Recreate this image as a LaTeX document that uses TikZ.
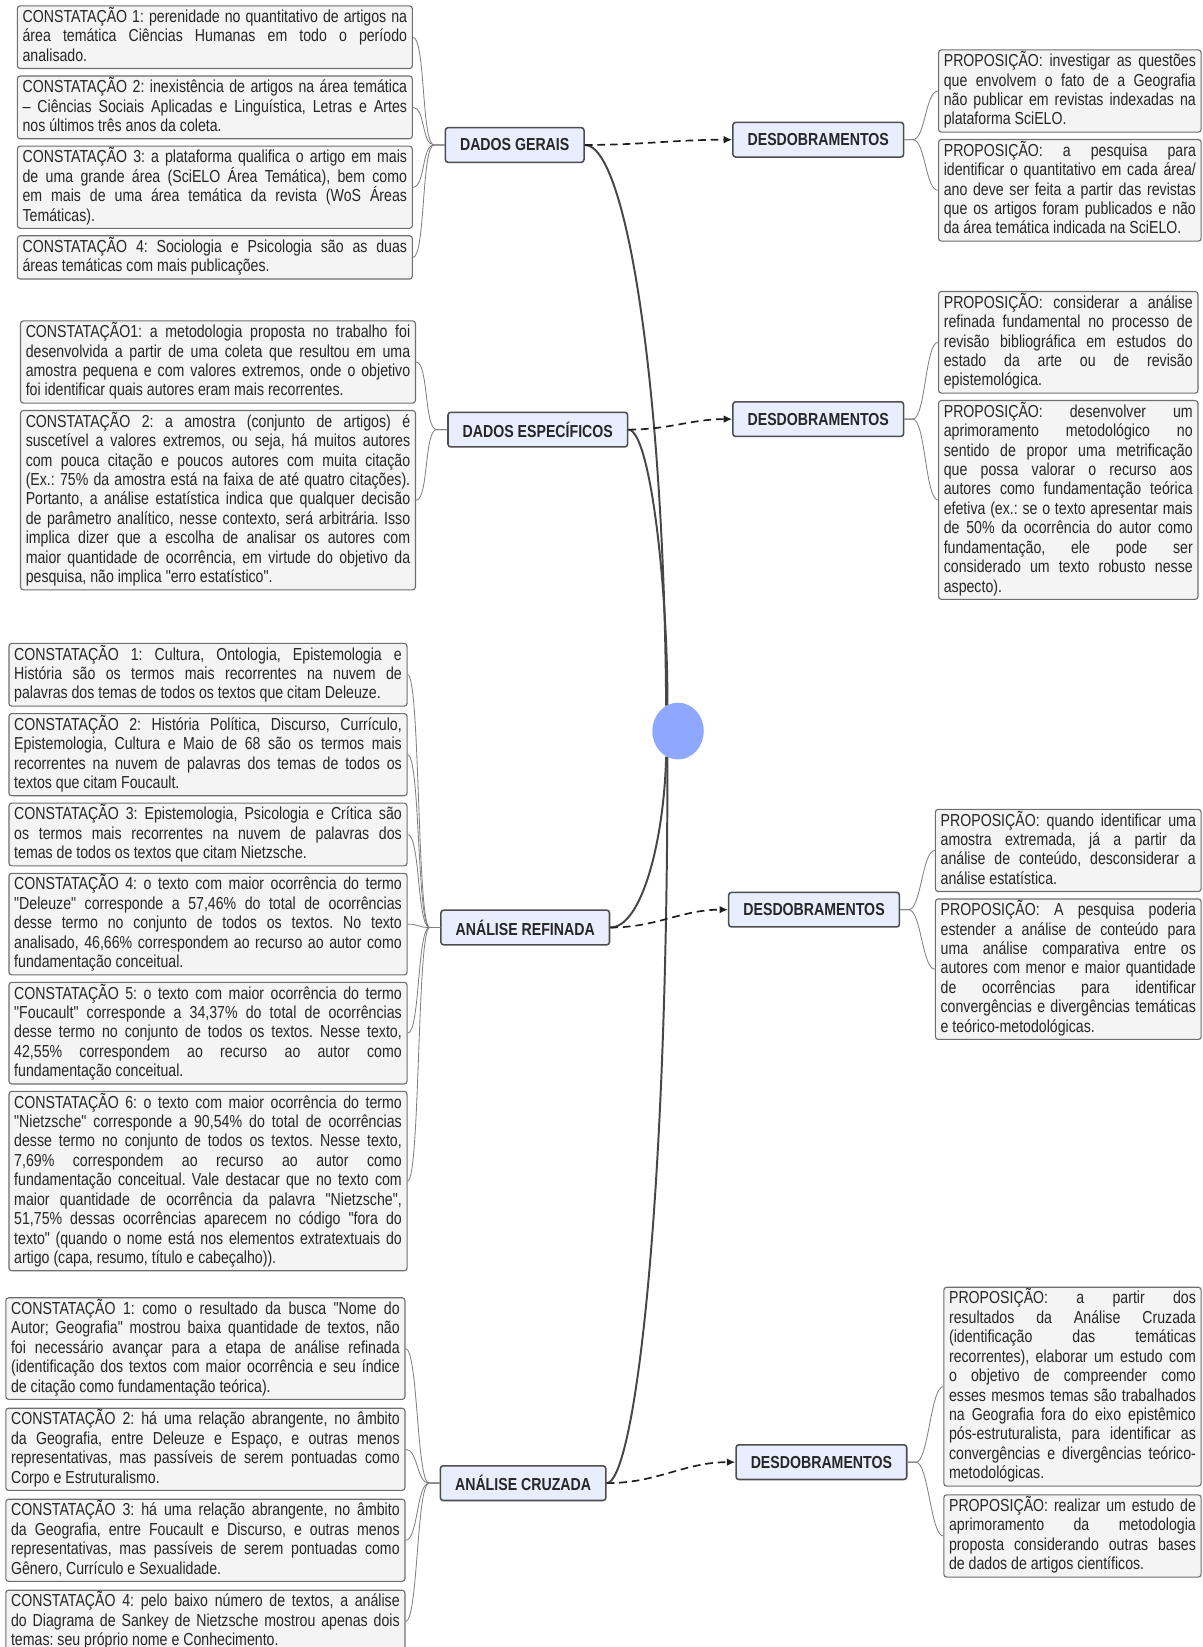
\documentclass[tikz,border=0pt]{standalone}
\usepackage{fontspec}
\setmainfont{Liberation Sans}[FakeStretch=0.815, Ligatures=TeXOff]
\usepackage{xcolor}
\usepackage{tikz}
\usetikzlibrary{positioning}
\usetikzlibrary{arrows.meta}
\usetikzlibrary{shapes.geometric}
\definecolor{boxgray}{HTML}{F4F4F4}
\definecolor{boxline}{HTML}{6E6E6E}
\definecolor{mainblue}{HTML}{E8EEFD}
\definecolor{mainline}{HTML}{4D4D4D}
\definecolor{hubblue}{HTML}{8FA8FF}
\definecolor{darktext}{HTML}{262626}
\tolerance=10000
\hbadness=10000
\hyphenpenalty=10000
\frenchspacing
\tikzset {
  x=0.75pt, y=-0.75pt,
  node distance={4.5pt},
  % topic and follow-up boxes
  main/.style = {draw=mainline, fill=mainblue, line width=1.1pt, rounded corners=2pt,
    inner xsep=10.5pt, minimum height=24.75pt, text=darktext,
    font=\bfseries\fontsize{12.4}{14}\selectfont},
  % grey text boxes, #1 is the text width
  textbox/.style = {draw=boxline, fill=boxgray, line width=0.8pt, rounded corners=2pt,
    inner xsep=3.75pt, inner ysep=1pt, align=justify, text width=#1, text=darktext,
    font=\fontsize{12.4}{13.875}\selectfont,
    execute at begin node={\lineskiplimit=-20pt\frenchspacing\strut}, execute at end node=\strut},
  % the blue centre
  centre/.style = {ellipse, fill=hubblue, minimum width=36.75pt, minimum height=40.5pt, inner sep=0pt},
  % connectors
  trunk/.style = {draw=black!72, line width=1.4pt},
  branch/.style = {draw=black!50, line width=0.6pt},
  link/.style = {draw=black!88, line width=1.2pt, dash pattern=on 5.5pt off 3.5pt,
    -{Latex[length=6pt,width=5.5pt]}},
}
\begin{document}
\begin{tikzpicture}
  \useasboundingbox (0,0) rectangle (1145,1568);

  \node[centre] (hub) at (645.5,696) {};

  \node[main] (dg) at (490,138) {DADOS GERAIS};
  \node[main] (de) at (512,409) {DADOS ESPECÍFICOS};
  \node[main] (ar) at (500,883) {ANÁLISE REFINADA};
  \node[main] (ac) at (498,1412) {ANÁLISE CRUZADA};

  \node[main] (d1) at (779,133) {DESDOBRAMENTOS};
  \node[main] (d2) at (779,399) {DESDOBRAMENTOS};
  \node[main] (d3) at (775,866) {DESDOBRAMENTOS};
  \node[main] (d4) at (782,1392) {DESDOBRAMENTOS};

  % dados gerais
  \node[textbox=274.5pt, anchor=north west] (g1) at (16,5) {CONSTATAÇÃO 1: perenidade no quantitativo de artigos na\linebreak área temática Ciências Humanas em todo o período\linebreak analisado.};
  \node[textbox=274.5pt] (g2) [below=of g1] {CONSTATAÇÃO 2: inexistência de artigos na área temática\linebreak – Ciências Sociais Aplicadas e Linguística, Letras e Artes\linebreak nos últimos três anos da coleta.};
  \node[textbox=274.5pt] (g3) [below=of g2] {CONSTATAÇÃO 3: a plataforma qualifica o artigo em mais\linebreak de uma grande área (SciELO Área Temática), bem como\linebreak em mais de uma área temática da revista (WoS Áreas\linebreak Temáticas).};
  \node[textbox=274.5pt] (g4) [below=of g3] {CONSTATAÇÃO 4: Sociologia e Psicologia são as duas\linebreak áreas temáticas com mais publicações.};

  % dados especificos
  \node[textbox=274.5pt, anchor=north west] (e1) at (19,305) {CONSTATAÇÃO1: a metodologia proposta no trabalho foi\linebreak desenvolvida a partir de uma coleta que resultou em uma\linebreak amostra pequena e com valores extremos, onde o objetivo\linebreak foi identificar quais autores eram mais recorrentes.};
  \node[textbox=274.5pt] (e2) [below=of e1] {CONSTATAÇÃO 2: a amostra (conjunto de artigos) é\linebreak suscetível a valores extremos, ou seja, há muitos autores\linebreak com pouca citação e poucos autores com muita citação\linebreak (Ex.: 75\% da amostra está na faixa de até quatro citações).\linebreak Portanto, a análise estatística indica que qualquer decisão\linebreak de parâmetro analítico, nesse contexto, será arbitrária. Isso\linebreak implica dizer que a escolha de analisar os autores com\linebreak maior quantidade de ocorrência, em virtude do objetivo da\linebreak pesquisa, não implica "erro estatístico".};

  % analise refinada
  \node[textbox=276.75pt, anchor=north west] (r1) at (8,612) {CONSTATAÇÃO 1: Cultura, Ontologia, Epistemologia e\linebreak História são os termos mais recorrentes na nuvem de\linebreak palavras dos temas de todos os textos que citam Deleuze.};
  \node[textbox=276.75pt] (r2) [below=of r1] {CONSTATAÇÃO 2: História Política, Discurso, Currículo,\linebreak Epistemologia, Cultura e Maio de 68 são os termos mais\linebreak recorrentes na nuvem de palavras dos temas de todos os\linebreak textos que citam Foucault.};
  \node[textbox=276.75pt] (r3) [below=of r2] {CONSTATAÇÃO 3: Epistemologia, Psicologia e Crítica são\linebreak os termos mais recorrentes na nuvem de palavras dos\linebreak temas de todos os textos que citam Nietzsche.};
  \node[textbox=276.75pt] (r4) [below=of r3] {CONSTATAÇÃO 4: o texto com maior ocorrência do termo\linebreak "Deleuze" corresponde a 57,46\% do total de ocorrências\linebreak desse termo no conjunto de todos os textos. No texto\linebreak analisado, 46,66\% correspondem ao recurso ao autor como\linebreak fundamentação conceitual.};
  \node[textbox=276.75pt] (r5) [below=of r4] {CONSTATAÇÃO 5: o texto com maior ocorrência do termo\linebreak "Foucault" corresponde a 34,37\% do total de ocorrências\linebreak desse termo no conjunto de todos os textos. Nesse texto,\linebreak 42,55\% correspondem ao recurso ao autor como\linebreak fundamentação conceitual.};
  \node[textbox=276.75pt] (r6) [below=of r5] {CONSTATAÇÃO 6: o texto com maior ocorrência do termo\linebreak "Nietzsche" corresponde a 90,54\% do total de ocorrências\linebreak desse termo no conjunto de todos os textos. Nesse texto,\linebreak 7,69\% correspondem ao recurso ao autor como\linebreak fundamentação conceitual. Vale destacar que no texto com\linebreak maior quantidade de ocorrência da palavra "Nietzsche",\linebreak 51,75\% dessas ocorrências aparecem no código "fora do\linebreak texto" (quando o nome está nos elementos extratextuais do\linebreak artigo (capa, resumo, título e cabeçalho)).};

  % analise cruzada
  \node[textbox=277.5pt, anchor=north west] (c1) at (5,1235) {CONSTATAÇÃO 1: como o resultado da busca "Nome do\linebreak Autor; Geografia" mostrou baixa quantidade de textos, não\linebreak foi necessário avançar para a etapa de análise refinada\linebreak (identificação dos textos com maior ocorrência e seu índice\linebreak de citação como fundamentação teórica).};
  \node[textbox=277.5pt] (c2) [below=5.5pt of c1] {CONSTATAÇÃO 2: há uma relação abrangente, no âmbito\linebreak da Geografia, entre Deleuze e Espaço, e outras menos\linebreak representativas, mas passíveis de serem pontuadas como\linebreak Corpo e Estruturalismo.};
  \node[textbox=277.5pt] (c3) [below=5.5pt of c2] {CONSTATAÇÃO 3: há uma relação abrangente, no âmbito\linebreak da Geografia, entre Foucault e Discurso, e outras menos\linebreak representativas, mas passíveis de serem pontuadas como\linebreak Gênero, Currículo e Sexualidade.};
  \node[textbox=277.5pt] (c4) [below=5.5pt of c3] {CONSTATAÇÃO 4: pelo baixo número de textos, a análise\linebreak do Diagrama de Sankey de Nietzsche mostrou apenas dois\linebreak temas: seu próprio nome e Conhecimento.};

  % proposicoes
  \node[textbox=180pt, anchor=north west] (p1a) at (893,47) {PROPOSIÇÃO: investigar as questões\linebreak que envolvem o fato de a Geografia\linebreak não publicar em revistas indexadas na\linebreak plataforma SciELO.};
  \node[textbox=180pt] (p1b) [below=of p1a] {PROPOSIÇÃO: a pesquisa para\linebreak identificar o quantitativo em cada área/\linebreak ano deve ser feita a partir das revistas\linebreak que os artigos foram publicados e não\linebreak da área temática indicada na SciELO.};

  \node[textbox=177.75pt, anchor=north west] (p2a) at (893,277) {PROPOSIÇÃO: considerar a análise\linebreak refinada fundamental no processo de\linebreak revisão bibliográfica em estudos do\linebreak estado da arte ou de revisão\linebreak epistemológica.};
  \node[textbox=177.75pt] (p2b) [below=of p2a] {PROPOSIÇÃO: desenvolver um\linebreak aprimoramento metodológico no\linebreak sentido de propor uma metrificação\linebreak que possa valorar o recurso aos\linebreak autores como fundamentação teórica\linebreak efetiva (ex.: se o texto apresentar mais\linebreak de 50\% da ocorrência do autor como\linebreak fundamentação, ele pode ser\linebreak considerado um texto robusto nesse\linebreak aspecto).};

  \node[textbox=182.25pt, anchor=north west] (p3a) at (890,770) {PROPOSIÇÃO: quando identificar uma\linebreak amostra extremada, já a partir da\linebreak análise de conteúdo, desconsiderar a\linebreak análise estatística.};
  \node[textbox=182.25pt] (p3b) [below=of p3a] {PROPOSIÇÃO: A pesquisa poderia\linebreak estender a análise de conteúdo para\linebreak uma análise comparativa entre os\linebreak autores com menor e maior quantidade\linebreak de ocorrências para identificar\linebreak convergências e divergências temáticas\linebreak e teórico-metodológicas.};

  \node[textbox=176.25pt, anchor=north west] (p4a) at (898,1225) {PROPOSIÇÃO: a partir dos\linebreak resultados da Análise Cruzada\linebreak (identificação das temáticas\linebreak recorrentes), elaborar um estudo com\linebreak o objetivo de compreender como\linebreak esses mesmos temas são trabalhados\linebreak na Geografia fora do eixo epistêmico\linebreak pós-estruturalista, para identificar as\linebreak convergências e divergências teórico-\linebreak metodológicas.};
  \node[textbox=176.25pt] (p4b) [below=5.5pt of p4a] {PROPOSIÇÃO: realizar um estudo de\linebreak aprimoramento da metodologia\linebreak proposta considerando outras bases\linebreak de dados de artigos científicos.};

  % centre to topics
  \draw[trunk] (dg.east) .. controls +(40,0) and +(-2,-300) .. (hub.115);
  \draw[trunk] (de.east) .. controls +(20,0) and +(0,-120) .. (hub.112);
  \draw[trunk] (ar.east) .. controls +(30,0) and +(-2,80) .. (hub.245);
  \draw[trunk] (ac.east) .. controls +(25,0) and +(0,450) .. (hub.248);

  % topics to follow-ups
  \draw[link] (dg.east) to[out=0, in=180] (d1.west);
  \draw[link] (de.east) to[out=0, in=180] (d2.west);
  \draw[link] (ar.east) to[out=0, in=180] (d3.west);
  \draw[link] (ac.east) to[out=0, in=180] (d4.west);

  % boxes to topics
  \draw[branch] (dg.west) -- ++(-10,0) .. controls +(-12,0) and +(12,0) .. (g1.east);
  \draw[branch] (dg.west) -- ++(-10,0) .. controls +(-12,0) and +(12,0) .. (g2.east);
  \draw[branch] (dg.west) -- ++(-10,0) .. controls +(-12,0) and +(12,0) .. (g3.east);
  \draw[branch] (dg.west) -- ++(-10,0) .. controls +(-12,0) and +(12,0) .. (g4.east);

  \draw[branch] (de.west) -- ++(-10,0) .. controls +(-12,0) and +(12,0) .. (e1.east);
  \draw[branch] (de.west) -- ++(-10,0) .. controls +(-12,0) and +(12,0) .. (e2.east);

  \draw[branch] (ar.west) -- ++(-10,0) .. controls +(-12,0) and +(12,0) .. (r1.east);
  \draw[branch] (ar.west) -- ++(-10,0) .. controls +(-12,0) and +(12,0) .. (r2.east);
  \draw[branch] (ar.west) -- ++(-10,0) .. controls +(-12,0) and +(12,0) .. (r3.east);
  \draw[branch] (ar.west) -- ++(-10,0) .. controls +(-12,0) and +(12,0) .. (r4.east);
  \draw[branch] (ar.west) -- ++(-10,0) .. controls +(-12,0) and +(12,0) .. (r5.east);
  \draw[branch] (ar.west) -- ++(-10,0) .. controls +(-12,0) and +(12,0) .. (r6.east);

  \draw[branch] (ac.west) -- ++(-10,0) .. controls +(-12,0) and +(12,0) .. (c1.east);
  \draw[branch] (ac.west) -- ++(-10,0) .. controls +(-12,0) and +(12,0) .. (c2.east);
  \draw[branch] (ac.west) -- ++(-10,0) .. controls +(-12,0) and +(12,0) .. (c3.east);
  \draw[branch] (ac.west) -- ++(-10,0) .. controls +(-12,0) and +(12,0) .. (c4.east);

  % follow-ups to proposals
  \draw[branch] (d1.east) -- ++(8,0) .. controls +(12,0) and +(-12,0) .. (p1a.west);
  \draw[branch] (d1.east) -- ++(8,0) .. controls +(12,0) and +(-12,0) .. (p1b.west);
  \draw[branch] (d2.east) -- ++(8,0) .. controls +(12,0) and +(-12,0) .. (p2a.west);
  \draw[branch] (d2.east) -- ++(8,0) .. controls +(12,0) and +(-12,0) .. (p2b.west);
  \draw[branch] (d3.east) -- ++(8,0) .. controls +(12,0) and +(-12,0) .. (p3a.west);
  \draw[branch] (d3.east) -- ++(8,0) .. controls +(12,0) and +(-12,0) .. (p3b.west);
  \draw[branch] (d4.east) -- ++(8,0) .. controls +(12,0) and +(-12,0) .. (p4a.west);
  \draw[branch] (d4.east) -- ++(8,0) .. controls +(12,0) and +(-12,0) .. (p4b.west);
\end{tikzpicture}
\end{document}
